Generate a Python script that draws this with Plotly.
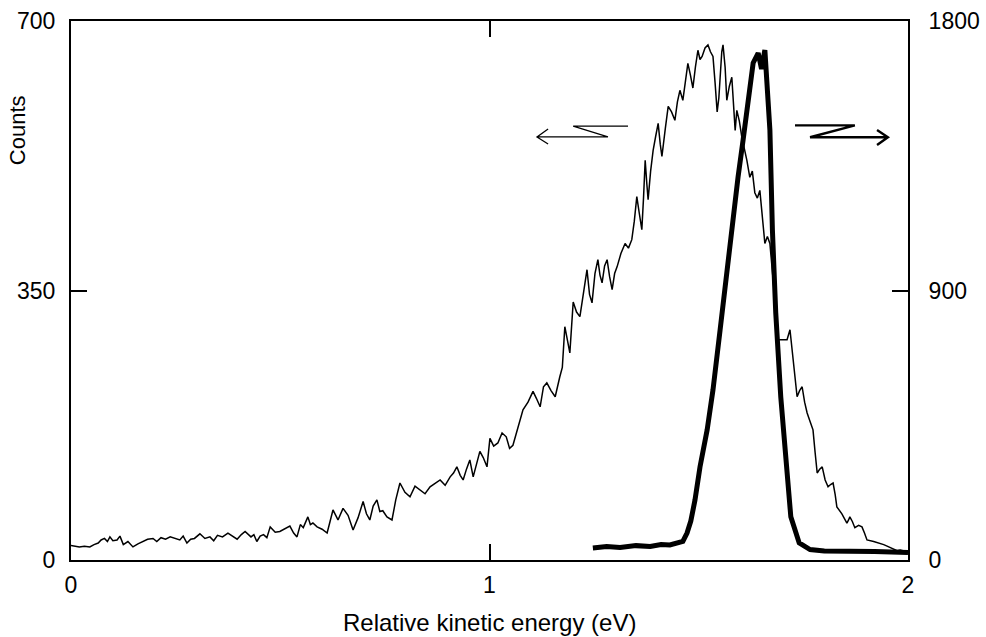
import plotly.graph_objects as go

# Thin curve (left axis, Counts)
thin_energy = [0.000, 0.010, 0.020, 0.032, 0.045, 0.055, 0.065, 0.072, 0.080, 0.087, 0.093,
               0.100, 0.110, 0.117, 0.125, 0.136, 0.148, 0.160, 0.170, 0.183, 0.196,
               0.205, 0.215, 0.226, 0.237, 0.248, 0.260, 0.268, 0.277, 0.286, 0.295,
               0.308, 0.320, 0.332, 0.341, 0.350, 0.362, 0.375, 0.386, 0.397, 0.407, 0.416,
               0.430, 0.437, 0.444, 0.452, 0.460, 0.468, 0.476, 0.488, 0.499, 0.511, 0.523,
               0.532, 0.540, 0.548, 0.555, 0.566, 0.572, 0.578, 0.588, 0.600, 0.612, 0.619,
               0.626, 0.638, 0.650, 0.662, 0.674, 0.686, 0.698, 0.706, 0.714, 0.722, 0.731,
               0.738, 0.745, 0.755, 0.767, 0.776, 0.786, 0.798, 0.810, 0.822, 0.834, 0.846,
               0.858, 0.870, 0.882, 0.894, 0.906, 0.914, 0.922, 0.930, 0.937, 0.945, 0.953,
               0.961, 0.969, 0.977, 0.985, 0.994, 1.001, 1.010, 1.020, 1.030, 1.040, 1.048,
               1.056, 1.068, 1.080, 1.092, 1.104, 1.112, 1.121, 1.129, 1.137, 1.147,
               1.157, 1.168, 1.174, 1.180, 1.186, 1.192, 1.200, 1.208, 1.216, 1.225, 1.233,
               1.239, 1.245, 1.252, 1.259, 1.264, 1.269, 1.275, 1.281, 1.287, 1.293, 1.299,
               1.305, 1.314, 1.324, 1.332, 1.340, 1.346, 1.352, 1.358, 1.364, 1.368, 1.372,
               1.376, 1.379, 1.385, 1.391, 1.397, 1.403, 1.408, 1.412, 1.420, 1.427, 1.435,
               1.443, 1.449, 1.455, 1.462, 1.468, 1.474, 1.480, 1.486, 1.492, 1.498, 1.503,
               1.508, 1.515, 1.522, 1.528, 1.534, 1.539, 1.544, 1.548, 1.551, 1.555, 1.558,
               1.563, 1.567, 1.573, 1.579, 1.583, 1.587, 1.591, 1.597, 1.603, 1.609, 1.615,
               1.622, 1.628, 1.634, 1.640, 1.646, 1.652, 1.658, 1.664, 1.670, 1.680, 1.689,
               1.700, 1.711, 1.718, 1.726, 1.735, 1.741, 1.747, 1.753, 1.759, 1.766, 1.773,
               1.778, 1.783, 1.789, 1.795, 1.802, 1.809, 1.815, 1.821, 1.826, 1.830, 1.842,
               1.854, 1.858, 1.861, 1.867, 1.873, 1.882, 1.890, 1.896, 1.902, 1.918, 1.933,
               1.942, 1.950, 1.962, 1.974, 1.981, 1.988]
thin_counts = [19, 18, 17, 18, 17, 20, 22, 26, 28, 24, 30,
               25, 26, 31, 20, 24, 17, 21, 24, 27, 28,
               24, 29, 27, 30, 28, 26, 31, 22, 27, 28,
               34, 28, 30, 25, 32, 30, 35, 31, 27, 33, 37,
               30, 33, 24, 31, 33, 29, 43, 36, 37, 41, 44,
               35, 30, 46, 42, 56, 46, 48, 43, 40, 35, 50,
               65, 52, 67, 58, 39, 55, 76, 60, 52, 70, 78,
               63, 64, 56, 52, 78, 100, 88, 82, 96, 91, 86,
               95, 99, 104, 97, 108, 113, 121, 110, 104, 118, 130,
               108, 126, 141, 133, 121, 158, 148, 152, 165, 160, 145,
               149, 172, 195, 205, 219, 210, 199, 225, 230, 220,
               212, 238, 250, 303, 284, 269, 335, 322, 316, 350, 377,
               345, 334, 372, 390, 370, 360, 382, 390, 368, 351, 372,
               381, 398, 411, 405, 416, 440, 472, 450, 429, 470, 519,
               488, 468, 505, 532, 550, 567, 540, 524, 560, 589, 582,
               571, 595, 610, 597, 625, 645, 630, 613, 640, 662, 650,
               654, 665, 669, 660, 654, 620, 582, 600, 632, 660, 669,
               640, 597, 615, 627, 595, 558, 584, 570, 549, 535, 519,
               497, 505, 477, 470, 480, 450, 411, 420, 411, 350, 286,
               286, 286, 299, 260, 212, 220, 225, 205, 191, 180, 169,
               140, 113, 118, 121, 104, 95, 98, 100, 85, 69, 60,
               48, 52, 56, 50, 42, 45, 43, 35, 26, 24, 22,
               20, 18, 15, 12, 13, 12]

# Thick curve (right axis)
thick_energy = [1.247, 1.280, 1.312, 1.350, 1.384, 1.410, 1.431, 1.450, 1.462, 1.472, 1.481,
                1.491, 1.503, 1.520, 1.534, 1.551, 1.568, 1.582, 1.594, 1.606, 1.618, 1.630,
                1.642, 1.650, 1.658, 1.664, 1.670, 1.676, 1.684, 1.696, 1.708, 1.720, 1.740,
                1.766, 1.800, 1.861, 1.920, 2.000]
thick_counts = [40, 45, 42, 48, 45, 52, 50, 56, 62, 90, 130,
                200, 311, 434, 568, 768, 969, 1169, 1280, 1403, 1547, 1660,
                1693, 1640, 1703, 1570, 1436, 1102, 825, 544, 324, 144, 57,
                35, 30, 30, 28, 25]

x_ticks = [0, 1, 2]
y_ticks = [0, 350, 700]
y2_ticks = [0, 900, 1800]

font_family = "Liberation Sans, Arial, Helvetica, sans-serif"

fig = go.Figure()
fig.add_trace(go.Scatter(x=thin_energy, y=thin_counts, mode="lines",
                         line=dict(color="black", width=1.5), yaxis="y", showlegend=False))
fig.add_trace(go.Scatter(x=thick_energy, y=thick_counts, mode="lines",
                         line=dict(color="black", width=5), yaxis="y2", showlegend=False))

# Direction arrows
fig.add_shape(type="path", xref="x", yref="y",
              path="M 1.331,563.6 L 1.200,563.6 L 1.283,549.4 L 1.1135,549.4 M 1.140,559.7 L 1.1135,549.4 L 1.140,540.2",
              line=dict(color="black", width=1.3))
fig.add_shape(type="path", xref="x", yref="y",
              path="M 1.730,564.5 L 1.873,564.5 L 1.766,549.0 L 1.952,549.0 M 1.926,558.4 L 1.952,549.0 L 1.926,538.9",
              line=dict(color="black", width=2.4))

fig.update_layout(
    width=986, height=637,
    margin=dict(l=71, r=78, t=21, b=77, autoexpand=False),
    plot_bgcolor="white", paper_bgcolor="white",
    font=dict(family=font_family, size=23, color="black"),
    xaxis=dict(range=[0, 2], tickvals=x_ticks, ticktext=[str(v) for v in x_ticks],
               ticks="inside", ticklen=16, tickwidth=1.5, tickcolor="black",
               showline=True, linecolor="black", linewidth=2, mirror="ticks",
               showgrid=False, zeroline=False, ticklabelstandoff=3, automargin=False),
    yaxis=dict(range=[0, 700], tickvals=y_ticks, ticktext=[str(v) for v in y_ticks],
               ticks="inside", ticklen=16, tickwidth=1.5, tickcolor="black",
               showline=True, linecolor="black", linewidth=2,
               showgrid=False, zeroline=False, ticklabelstandoff=9, automargin=False),
    yaxis2=dict(range=[0, 1800], tickvals=y2_ticks, ticktext=[str(v) for v in y2_ticks],
                overlaying="y", side="right",
                ticks="inside", ticklen=16, tickwidth=1.5, tickcolor="black",
                showline=True, linecolor="black", linewidth=2,
                showgrid=False, zeroline=False, ticklabelstandoff=14, automargin=False),
    annotations=[
        dict(text="Counts", xref="paper", yref="paper", x=-0.063, y=0.798,
             textangle=-90, showarrow=False, xanchor="center", yanchor="middle",
             font=dict(size=22)),
        dict(text="Relative kinetic energy (eV)", xref="paper", yref="paper",
             x=0.5, y=-0.116, showarrow=False, xanchor="center", yanchor="middle",
             font=dict(size=24)),
    ],
)

fig.write_html("out.html", config={"displayModeBar": False},
               post_script="document.body.style.margin='0px';")
